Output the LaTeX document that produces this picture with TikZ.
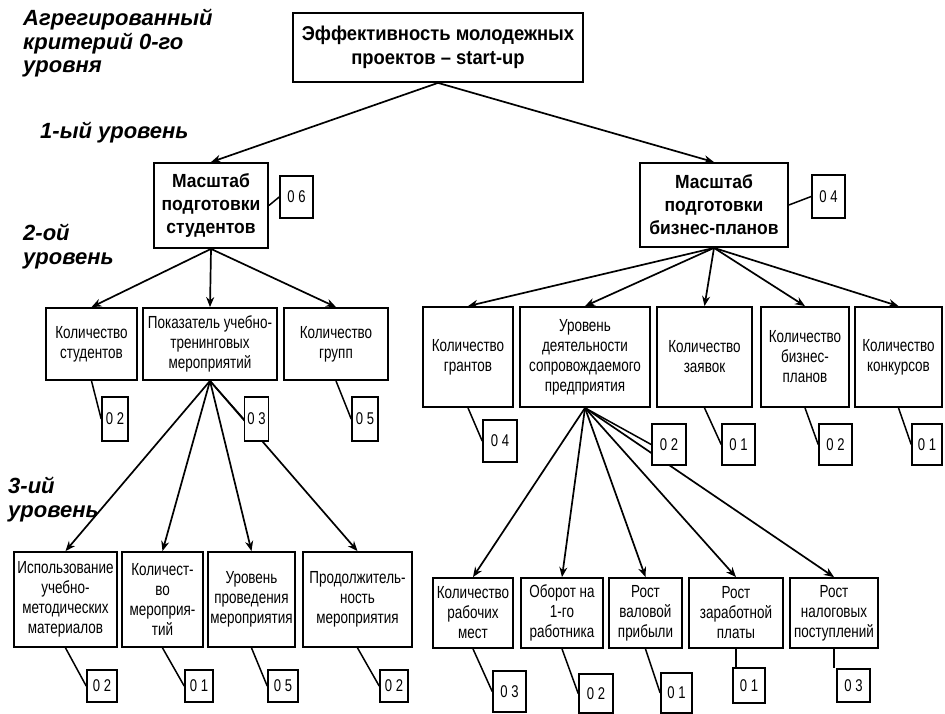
\documentclass[tikz,border=0pt]{standalone}
\usepackage{fontspec}
\setmainfont{Liberation Sans}
\newfontfamily\narrowfont[FakeStretch=0.77]{Liberation Sans}
\newfontfamily\headfont[FakeStretch=0.92]{Liberation Sans}
\usetikzlibrary{arrows.meta}

\begin{document}
\begin{tikzpicture}[x=1pt,y=-1pt,
    crit/.style={draw, line width=1.8pt, align=center, inner sep=1pt,
        font=\narrowfont\fontsize{17.5}{20}\selectfont},
    headcrit/.style={crit, font=\headfont\bfseries\fontsize{19}{23}\selectfont},
    wt/.style={draw, fill=white, line width=1.6pt, inner sep=0pt,
        minimum width=32pt, minimum height=41pt,
        font=\narrowfont\fontsize{17}{18}\selectfont},
    lvl/.style={anchor=north west, inner sep=0pt, align=left,
        font=\bfseries\itshape\fontsize{22}{23.5}\selectfont},
    arr/.style={line width=1.7pt, -{Stealth[length=10pt,width=8pt]}},
    lnk/.style={line width=1.5pt}]
    \useasboundingbox (0,0) rectangle (945,714);
    %%level_labels
    \node (lab0) at (23,9) [lvl] {Агрегированный\\критерий 0-го\\уровня};
    \node (lab1) at (40,122) [lvl] {1-ый уровень};
    \node (lab2) at (23,224) [lvl] {2-ой\\уровень};
    \node (lab3) at (8,477) [lvl] {3-ий\\уровень};
    %%root
    \node (root) at (438,47.5) [crit, minimum width=290pt, minimum height=69pt,
        font=\headfont\bfseries\fontsize{20}{24}\selectfont]
        {Эффективность молодежных\\проектов – start-up};
    %%first_level
    \node (stu) at (211,205.5) [headcrit, minimum width=114pt, minimum height=85pt]
        {Масштаб\\подготовки\\студентов};
    \node (biz) at (714,205) [headcrit, minimum width=148pt, minimum height=84pt]
        {Масштаб\\подготовки\\бизнес-планов};
    \draw[arr] (root.south) to (stu.north);
    \draw[arr] (root.south) to (biz.north);
    %%second_level_students
    \node (nstud) at (91.5,344) [crit, minimum width=91pt, minimum height=72pt]
        {Количество\\студентов};
    \node (train) at (210,344) [crit, minimum width=134pt, minimum height=72pt]
        {Показатель учебно-\\тренинговых\\мероприятий};
    \node (ngrp) at (336,344) [crit, minimum width=104pt, minimum height=72pt]
        {Количество\\групп};
    \draw[arr] (stu.south) to (nstud.north);
    \draw[arr] (stu.south) to (train.north);
    \draw[arr] (stu.south) to (ngrp.north);
    %%second_level_plans
    \node (ngrant) at (468,357) [crit, minimum width=90pt, minimum height=100pt]
        {Количество\\грантов};
    \node (firm) at (585,357) [crit, minimum width=130pt, minimum height=100pt]
        {Уровень\\деятельности\\сопровождаемого\\предприятия};
    \node (nreq) at (704.5,357) [crit, minimum width=95pt, minimum height=100pt]
        {Количество\\заявок};
    \node (nplan) at (805,357) [crit, minimum width=88pt, minimum height=100pt]
        {Количество\\бизнес-\\планов};
    \node (ncomp) at (898.5,357) [crit, minimum width=87pt, minimum height=100pt]
        {Количество\\конкурсов};
    \draw[arr] (biz.south) to (ngrant.north);
    \draw[arr] (biz.south) to (firm.north);
    \draw[arr] (biz.south) to (nreq.north);
    \draw[arr] (biz.south) to (nplan.north);
    \draw[arr] (biz.south) to (ncomp.north);
    %%third_level_training
    \node (mat) at (65.5,599.5) [crit, minimum width=103pt, minimum height=95pt]
        {Использование\\учебно-\\методических\\материалов};
    \node (nev) at (162.5,599.5) [crit, minimum width=81pt, minimum height=95pt]
        {Количест-\\во\\мероприя-\\тий};
    \node (qev) at (251.5,599.5) [crit, minimum width=87pt, minimum height=95pt]
        {Уровень\\проведения\\мероприятия};
    \node (dev) at (357.5,599.5) [crit, minimum width=109pt, minimum height=95pt]
        {Продолжитель-\\ность\\мероприятия};
    \draw[arr] (train.south) to (mat.north);
    \draw[arr] (train.south) to (nev.north);
    \draw[arr] (train.south) to (qev.north);
    \draw[arr] (train.south) to (dev.north);
    %%third_level_firm
    \node (jobs) at (473,613) [crit, minimum width=80pt, minimum height=70pt]
        {Количество\\рабочих\\мест};
    \node (turn) at (562,613) [crit, minimum width=82pt, minimum height=70pt]
        {Оборот на\\1-го\\работника};
    \node (prof) at (645.5,613) [crit, minimum width=73pt, minimum height=70pt]
        {Рост\\валовой\\прибыли};
    \node (wage) at (736,613) [crit, minimum width=94pt, minimum height=70pt]
        {Рост\\заработной\\платы};
    \node (tax) at (834,613) [crit, minimum width=88pt, minimum height=70pt]
        {Рост\\налоговых\\поступлений};
    \draw[arr] (firm.south) to (jobs.north);
    \draw[arr] (firm.south) to (turn.north);
    \draw[arr] (firm.south) to (prof.north);
    \draw[arr] (firm.south) to (wage.north);
    \draw[arr] (firm.south) to (tax.north);
    %%weights
    \node (wstu) at (296.5,197) [wt, minimum width=33pt, minimum height=42pt] {0 6};
    \node (wbiz) at (828.5,196.5) [wt, minimum width=33pt, minimum height=43pt] {0 4};
    \draw[lnk] (stu.east) to (wstu.west);
    \draw[lnk] (biz.east) to (wbiz.west);
    % second level
    \node (wnstud) at (115,419) [wt, minimum width=26pt, minimum height=44pt] {0 2};
    \node (wtrain) at (256.5,419) [wt, minimum width=24pt, minimum height=44pt] {0 3};
    \node (wngrp) at (365,419) [wt, minimum width=26pt, minimum height=44pt] {0 5};
    \node (wngrant) at (500,441) [wt, minimum width=34pt, minimum height=42pt] {0 4};
    \node (wfirm) at (669,444.5) [wt, minimum width=34pt] {0 2};
    \node (wnreq) at (738.5,444.5) [wt, minimum width=33pt] {0 1};
    \node (wnplan) at (835.5,444.5) [wt, minimum width=33pt] {0 2};
    \node (wncomp) at (927,444.5) [wt, minimum width=30pt] {0 1};
    \draw[lnk] (nstud.south) to (wnstud.west);
    \draw[lnk] (train.south) to (wtrain.west);
    \draw[lnk] (ngrp.south) to (wngrp.west);
    \draw[lnk] (ngrant.south) to (wngrant.west);
    \draw[lnk] (firm.south) to (wfirm.west);
    \draw[lnk] (nreq.south) to (wnreq.west);
    \draw[lnk] (nplan.south) to (wnplan.west);
    \draw[lnk] (ncomp.south) to (wncomp.west);
    % third level
    \node (wmat) at (102,686) [wt, minimum width=30pt, minimum height=32pt] {0 2};
    \node (wnev) at (199,686) [wt, minimum width=28pt, minimum height=32pt] {0 1};
    \node (wqev) at (283,686) [wt, minimum width=30pt, minimum height=32pt] {0 5};
    \node (wdev) at (394,686) [wt, minimum width=28pt, minimum height=32pt] {0 2};
    \node (wjobs) at (509.5,691.5) [wt, minimum width=33pt] {0 3};
    \node (wturn) at (596,693.5) [wt, minimum width=34pt, minimum height=39pt] {0 2};
    \node (wprof) at (676.5,693) [wt, minimum width=31pt, minimum height=40pt] {0 1};
    \node (wwage) at (749,685.5) [wt, minimum width=32pt, minimum height=35pt] {0 1};
    \node (wtax) at (853.5,685.5) [wt, minimum width=33pt, minimum height=33pt] {0 3};
    \draw[lnk] (mat.south) to (wmat.west);
    \draw[lnk] (nev.south) to (wnev.west);
    \draw[lnk] (qev.south) to (wqev.west);
    \draw[lnk] (dev.south) to (wdev.west);
    \draw[lnk] (jobs.south) to (wjobs.west);
    \draw[lnk] (turn.south) to (wturn.west);
    \draw[lnk] (prof.south) to (wprof.west);
    \draw[lnk] (wage.south) to (wage.south |- wwage.north);
    \draw[lnk] (tax.south) to (tax.south |- wtax.north);
\end{tikzpicture}
\end{document}
